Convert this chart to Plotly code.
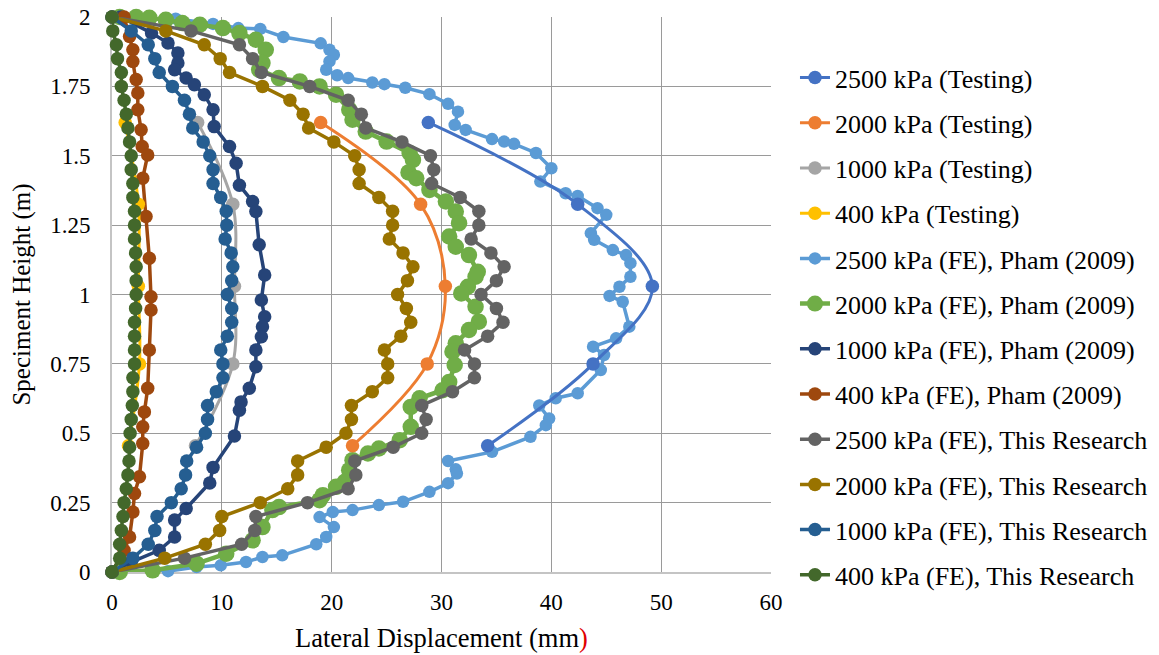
import plotly.graph_objects as go

# ---------------- data ----------------
test_y = [1.62, 1.325, 1.03, 0.75, 0.455]
test2500_x = [28.8, 42.4, 49.2, 43.8, 34.2]
test2000_x = [19.0, 28.1, 30.35, 28.7, 21.9]
test1000_x = [7.8, 11.0, 11.15, 11.0, 7.6]
test400_x = [1.2, 2.4, 2.4, 2.5, 1.5]

pham2500_x = [0.0, 5.8, 9.2, 11.5, 13.5, 15.6, 19.0, 19.8, 20.2, 19.8, 19.5, 20.5, 21.5, 23.7, 24.8,
              26.7, 28.9, 30.6, 31.5, 31.2, 32.2, 34.6, 35.7, 36.6, 38.6, 40.0, 39.0, 41.3, 42.4, 44.2,
              45.0, 43.6, 43.9, 45.6, 46.8, 47.2, 47.2, 46.2, 45.3, 46.5, 47.1, 45.9, 43.8, 44.8, 44.5,
              42.4, 40.4, 38.9, 39.8, 39.5, 38.1, 34.6, 30.6, 31.3, 31.4, 30.6, 28.9, 26.5, 24.3, 21.9,
              20.1, 18.9, 20.2, 19.5, 18.6, 15.5, 13.7, 12.2, 9.9, 7.7, 5.1, 0.0]
pham2500_y = [2.0, 1.994, 1.975, 1.96, 1.957, 1.928, 1.905, 1.882, 1.864, 1.84, 1.81, 1.79, 1.78, 1.764,
              1.758, 1.745, 1.722, 1.687, 1.659, 1.611, 1.593, 1.56, 1.551, 1.543, 1.51, 1.455, 1.407,
              1.365, 1.355, 1.311, 1.287, 1.221, 1.197, 1.16, 1.142, 1.113, 1.064, 1.028, 0.995, 0.974,
              0.884, 0.842, 0.812, 0.782, 0.728, 0.644, 0.626, 0.60, 0.553, 0.529, 0.487, 0.433, 0.40,
              0.37, 0.355, 0.32, 0.289, 0.253, 0.241, 0.223, 0.216, 0.198, 0.162, 0.126, 0.10, 0.06,
              0.054, 0.036, 0.024, 0.018, 0.003, 0.0]

pham2000_x = [0.7, 2.2, 3.4, 4.9, 6.4, 8.0, 10.1, 11.6, 13.1, 14.0, 13.7, 13.4, 15.2, 17.1, 18.9,
              20.4, 21.6, 21.9, 23.1, 25.0, 27.1, 27.4, 27.0, 27.7, 28.9, 30.4, 31.3, 31.6, 30.7, 31.3,
              32.5, 33.3, 33.1, 32.4, 31.8, 33.1, 33.4, 32.5, 31.3, 31.0, 31.2, 30.7, 30.1, 28.0, 27.2,
              27.2, 26.2, 24.3, 23.3, 21.9, 21.6, 21.2, 20.4, 19.2, 18.9, 15.2, 14.6, 13.7, 12.8, 10.4,
              7.7, 3.7, 0.7]
pham2000_y = [2.0, 2.0, 1.997, 1.99, 1.978, 1.972, 1.96, 1.942, 1.918, 1.882, 1.834, 1.81, 1.78, 1.768,
              1.75, 1.72, 1.666, 1.63, 1.587, 1.551, 1.51, 1.485, 1.44, 1.419, 1.377, 1.335, 1.299,
              1.257, 1.209, 1.172, 1.142, 1.082, 1.064, 1.028, 1.004, 0.956, 0.902, 0.872, 0.824,
              0.794, 0.746, 0.685, 0.655, 0.626, 0.595, 0.523, 0.475, 0.445, 0.427, 0.403, 0.367,
              0.325, 0.307, 0.277, 0.259, 0.234, 0.223, 0.162, 0.114, 0.066, 0.03, 0.006, 0.0]

pham1000_x = [0.8, 3.6, 5.1, 6.0, 6.0, 5.7, 6.75, 7.5, 8.4, 9.2, 9.3, 10.7, 11.3, 11.6, 12.8, 13.1,
              13.4, 13.9, 13.6, 13.9, 13.7, 13.6, 13.1, 13.1, 12.5, 11.75, 11.6, 11.15, 9.2, 8.9, 6.75,
              5.7, 5.7, 4.3, 1.75, 0.0]
pham1000_y = [2.0, 1.942, 1.906, 1.87, 1.834, 1.81, 1.78, 1.756, 1.72, 1.666, 1.605, 1.533, 1.473,
              1.394, 1.335, 1.299, 1.179, 1.07, 0.98, 0.92, 0.884, 0.848, 0.80, 0.74, 0.662, 0.613,
              0.583, 0.49, 0.377, 0.321, 0.229, 0.187, 0.126, 0.078, 0.036, 0.0]

pham400_x = [1.1, 1.6, 1.9, 1.9, 2.2, 2.35, 2.35, 2.65, 2.75, 3.25, 2.8, 3.1, 3.4, 3.55, 3.55, 3.4,
             3.25, 2.95, 2.8, 2.8, 2.5, 2.05, 1.9, 1.6, 1.1, 0.0]
pham400_y = [2.0, 1.93, 1.882, 1.84, 1.775, 1.726, 1.666, 1.594, 1.533, 1.503, 1.419, 1.281, 1.131,
             0.992, 0.944, 0.80, 0.662, 0.577, 0.523, 0.463, 0.343, 0.283, 0.216, 0.126, 0.078, 0.0]

res_y = [2.0, 1.95, 1.9, 1.85, 1.8, 1.75, 1.7, 1.65, 1.6, 1.55, 1.5, 1.45, 1.4, 1.35, 1.3, 1.25,
         1.2, 1.15, 1.1, 1.05, 1.0, 0.95, 0.9, 0.85, 0.8, 0.75, 0.7, 0.65, 0.6, 0.55, 0.5, 0.45,
         0.4, 0.35, 0.3, 0.25, 0.2, 0.15, 0.1, 0.05, 0.0]
res2500_x = [0.0, 7.2, 11.6, 12.8, 13.6, 18.0, 21.5, 22.7, 23.1, 26.4, 29.0, 29.3, 29.1, 31.7, 33.4,
             33.4, 32.7, 34.5, 35.7, 35.0, 33.6, 35.0, 35.6, 34.2, 32.1, 33.0, 33.0, 31.0, 28.2, 28.6,
             28.2, 25.6, 22.1, 22.2, 21.5, 17.8, 13.1, 13.0, 11.8, 6.6, 0.0]
res2000_x = [0.0, 4.9, 8.4, 9.85, 10.7, 13.7, 16.2, 17.4, 17.9, 20.2, 22.1, 22.5, 22.5, 24.3, 25.55,
             25.55, 25.25, 26.5, 27.4, 26.9, 26.0, 26.8, 27.2, 26.3, 24.8, 25.1, 25.1, 23.7, 21.8,
             21.8, 21.3, 19.5, 16.9, 16.9, 16.0, 13.5, 10.0, 9.8, 8.5, 4.8, 0.0]
res1000_x = [0.0, 1.75, 3.3, 3.9, 4.3, 5.5, 6.6, 7.05, 7.35, 8.3, 8.9, 9.2, 9.2, 9.9, 10.4, 10.45,
             10.3, 10.85, 11.0, 10.9, 10.5, 10.9, 10.9, 10.5, 9.9, 10.1, 10.1, 9.5, 8.7, 8.7, 8.5,
             7.7, 6.8, 6.7, 6.3, 5.4, 4.1, 3.9, 3.3, 1.9, 0.0]
res400_x = [0.0, 0.07, 0.4, 0.5, 0.85, 0.85, 1.1, 1.3, 1.45, 1.6, 1.75, 1.75, 1.9, 1.9, 2.05, 2.05,
            2.05, 2.15, 2.2, 2.2, 2.2, 2.15, 2.05, 2.05, 2.05, 2.05, 1.9, 1.9, 1.85, 1.75, 1.65,
            1.6, 1.55, 1.45, 1.3, 1.1, 1.0, 0.85, 0.7, 0.7, 0.0]

x_ticks = [0, 10, 20, 30, 40, 50, 60]
y_ticks = [0, 0.25, 0.5, 0.75, 1, 1.25, 1.5, 1.75, 2]
y_tick_text = ["0", "0.25", "0.5", "0.75", "1", "1.25", "1.5", "1.75", "2"]

# ---------------- figure ----------------
FONT = "Liberation Serif"
fig = go.Figure()


def add(name, xs, ys, color, rank, size=13.5, spline=False, width=3.5):
    fig.add_trace(go.Scatter(
        x=xs, y=ys, name=name, mode="lines+markers",
        line=dict(color=color, width=width, shape="spline" if spline else "linear", smoothing=1.0),
        marker=dict(color=color, size=size, symbol="circle"),
        legendgroup=name, legendrank=rank, cliponaxis=False,
    ))


# drawing order: Pham FE (bottom), testing, this research (top)
add("2500 kPa (FE), Pham (2009)", pham2500_x, pham2500_y, "#5B9BD5", 5, size=12.5)
add("2000 kPa (FE), Pham (2009)", pham2000_x, pham2000_y, "#70AD47", 6, size=16.5, width=4.5)
add("1000 kPa (FE), Pham (2009)", pham1000_x, pham1000_y, "#264478", 7)
add("400 kPa (FE), Pham (2009)", pham400_x, pham400_y, "#9E480E", 8)
add("2500 kPa (Testing)", test2500_x, test_y, "#4472C4", 1, spline=True, width=3)
add("2000 kPa (Testing)", test2000_x, test_y, "#ED7D31", 2, spline=True, width=3)
add("1000 kPa (Testing)", test1000_x, test_y, "#A5A5A5", 3, spline=True, width=3)
add("400 kPa (Testing)", test400_x, test_y, "#FFC000", 4, spline=True, width=3)
add("2500 kPa (FE), This Research", res2500_x, res_y, "#636363", 9)
add("2000 kPa (FE), This Research", res2000_x, res_y, "#997300", 10)
add("1000 kPa (FE), This Research", res1000_x, res_y, "#255E91", 11)
add("400 kPa (FE), This Research", res400_x, res_y, "#43682B", 12)

fig.update_layout(
    width=1159, height=655,
    margin=dict(l=112, r=388, t=17, b=83, autoexpand=False),
    paper_bgcolor="white", plot_bgcolor="white",
    font=dict(family=FONT, size=23, color="black"),
    showlegend=True,
    legend=dict(
        x=1.0364, xanchor="left", y=0.933, yanchor="top",
        font=dict(family=FONT, size=26, color="black"),
        traceorder="grouped", tracegroupgap=8.4,
        bgcolor="rgba(0,0,0,0)", borderwidth=0,
        itemsizing="trace",
    ),
    xaxis=dict(
        range=[0, 60], tickvals=x_ticks, ticktext=[str(v) for v in x_ticks],
        showgrid=True, gridcolor="#9a9a9a", gridwidth=1.3, automargin=False,
        zeroline=False, showline=True, linecolor="#c4c4c4", linewidth=2,
        ticks="", ticklabelstandoff=8, layer="below traces",
        tickfont=dict(family=FONT, size=23),
        title=dict(text="Lateral Displacement (mm<span style='color:#e00000'>)</span>",
                   font=dict(family=FONT, size=26.5), standoff=15),
    ),
    yaxis=dict(
        range=[0, 2], tickvals=y_ticks, ticktext=y_tick_text,
        showgrid=True, gridcolor="#9a9a9a", gridwidth=1.3, automargin=False,
        zeroline=False, showline=True, linecolor="#c4c4c4", linewidth=2,
        ticks="", ticklabelstandoff=15, layer="below traces",
        tickfont=dict(family=FONT, size=23),
        title=dict(text="Speciment Height (m)", font=dict(family=FONT, size=25), standoff=12),
    ),
)

# remove the page's default body margin so the figure fills the window exactly
fig.write_html(
    "out.html",
    config={"displayModeBar": False},
    post_script="document.body.style.margin='0';document.body.style.overflow='hidden';",
)
